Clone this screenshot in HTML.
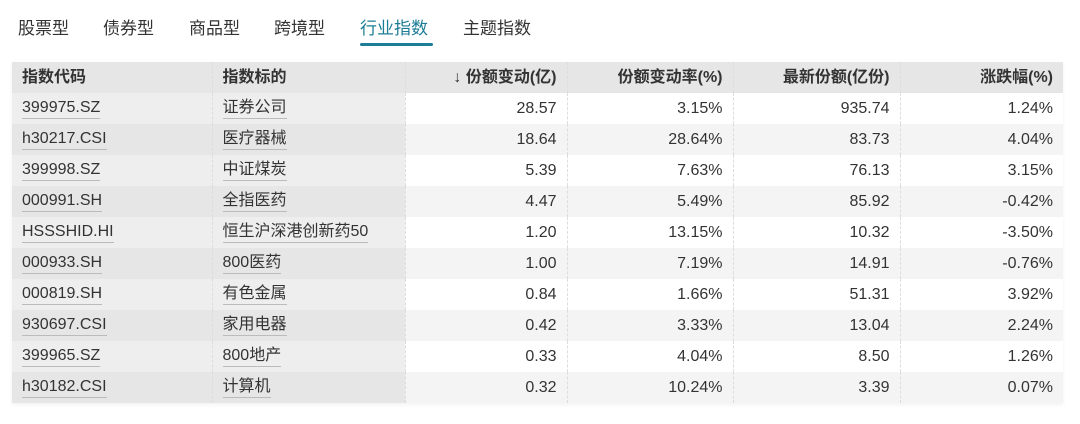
<!DOCTYPE html><html><head><meta charset="utf-8"><style>
body{margin:0;width:1080px;height:424px;background:#fff;font-family:"Liberation Sans","Noto Sans CJK SC",sans-serif;color:#333;overflow:hidden;position:relative}
.tab{position:absolute;top:14px;font-size:17px;color:#333}
.act{color:#1d7c96}
.ul{position:absolute;left:360px;top:43px;width:73px;height:3px;background:#1d7c96;border-radius:2px}
table{position:absolute;left:12px;top:62px;border-collapse:collapse;font-size:16px;box-shadow:0 2px 4px rgba(0,0,0,.05)}
td,th{height:31px;padding:0 10px;border-left:1px dashed #ddd;white-space:nowrap;line-height:20px;box-sizing:border-box}
th{background:#e6e6e6;font-weight:bold;text-align:right;color:#333;height:31px}
th.l,td.l{text-align:left}
td{text-align:right}
tr:nth-child(odd) td{background:#f4f4f4}
td.g{background:#eeeeee!important}
tr:nth-child(odd) td.g{background:#e6e6e6!important}
td.l span{display:inline-block;line-height:20px;height:20px;border-bottom:1px solid #bbb;vertical-align:middle}
</style></head><body>
<div class="tab" style="left:18px">股票型</div>
<div class="tab" style="left:103px">债券型</div>
<div class="tab" style="left:189px">商品型</div>
<div class="tab" style="left:274px">跨境型</div>
<div class="tab act" style="left:360px">行业指数</div>
<div class="tab" style="left:463px">主题指数</div>
<div class="ul"></div>
<table>
<colgroup><col style="width:200px"><col style="width:193px"><col style="width:162px"><col style="width:166px"><col style="width:167px"><col style="width:163px"></colgroup>
<tr><th class="l" style="border-left:none">指数代码</th><th class="l">指数标的</th><th><span style="font-weight:normal">↓</span> 份额变动(亿)</th><th>份额变动率(%)</th><th>最新份额(亿份)</th><th>涨跌幅(%)</th></tr>
<tr><td class="l g" style="border-left:none"><span>399975.SZ</span></td><td class="l g"><span>证券公司</span></td><td>28.57</td><td>3.15%</td><td>935.74</td><td>1.24%</td></tr>
<tr><td class="l g" style="border-left:none"><span>h30217.CSI</span></td><td class="l g"><span>医疗器械</span></td><td>18.64</td><td>28.64%</td><td>83.73</td><td>4.04%</td></tr>
<tr><td class="l g" style="border-left:none"><span>399998.SZ</span></td><td class="l g"><span>中证煤炭</span></td><td>5.39</td><td>7.63%</td><td>76.13</td><td>3.15%</td></tr>
<tr><td class="l g" style="border-left:none"><span>000991.SH</span></td><td class="l g"><span>全指医药</span></td><td>4.47</td><td>5.49%</td><td>85.92</td><td>-0.42%</td></tr>
<tr><td class="l g" style="border-left:none"><span>HSSSHID.HI</span></td><td class="l g"><span>恒生沪深港创新药50</span></td><td>1.20</td><td>13.15%</td><td>10.32</td><td>-3.50%</td></tr>
<tr><td class="l g" style="border-left:none"><span>000933.SH</span></td><td class="l g"><span>800医药</span></td><td>1.00</td><td>7.19%</td><td>14.91</td><td>-0.76%</td></tr>
<tr><td class="l g" style="border-left:none"><span>000819.SH</span></td><td class="l g"><span>有色金属</span></td><td>0.84</td><td>1.66%</td><td>51.31</td><td>3.92%</td></tr>
<tr><td class="l g" style="border-left:none"><span>930697.CSI</span></td><td class="l g"><span>家用电器</span></td><td>0.42</td><td>3.33%</td><td>13.04</td><td>2.24%</td></tr>
<tr><td class="l g" style="border-left:none"><span>399965.SZ</span></td><td class="l g"><span>800地产</span></td><td>0.33</td><td>4.04%</td><td>8.50</td><td>1.26%</td></tr>
<tr><td class="l g" style="border-left:none"><span>h30182.CSI</span></td><td class="l g"><span>计算机</span></td><td>0.32</td><td>10.24%</td><td>3.39</td><td>0.07%</td></tr>
</table>
</body></html>
